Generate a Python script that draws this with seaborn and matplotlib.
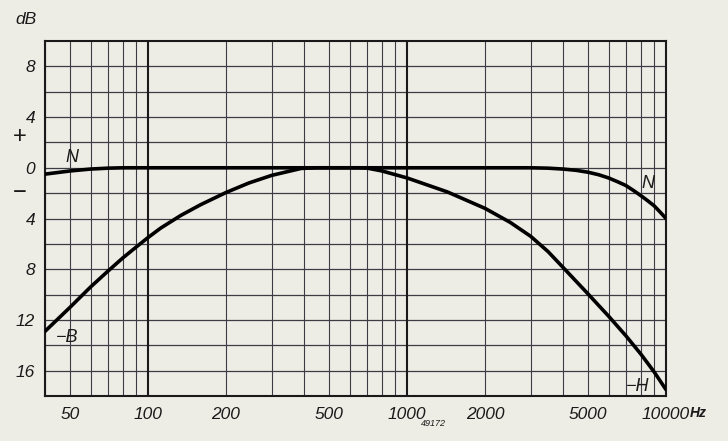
import matplotlib
matplotlib.use('Agg')
import matplotlib.pyplot as plt
from matplotlib.ticker import FixedLocator, FuncFormatter, NullFormatter
import seaborn as sns
import pandas as pd

# curve N (flat response)
freq_n = [40, 50, 60, 70, 80, 100, 200, 500, 1000, 2000, 3000, 3500, 4000, 4500, 5000, 5500,
          6000, 6500, 7000, 7500, 8000, 8500, 9000, 9500, 10000]
db_n = [-0.5, -0.25, -0.1, -0.03, 0, 0, 0, 0, 0, 0, 0, -0.03, -0.1, -0.2, -0.35, -0.55,
        -0.8, -1.1, -1.4, -1.8, -2.2, -2.6, -3.0, -3.5, -4.0]

# curve B-H (bass and treble cut)
freq_bh = [40, 50, 60, 70, 80, 90, 100, 112, 134, 160, 200, 245, 300, 330, 390, 450, 550, 650,
           700, 800, 1000, 1430, 2000, 2500, 3000, 3500, 4000, 5000, 6000, 7000, 8000, 9000, 10000]
db_bh = [-12.9, -11.0, -9.4, -8.15, -7.1, -6.25, -5.5, -4.75, -3.75, -2.9, -1.95, -1.2, -0.6, -0.4, -0.05, 0, 0, 0,
         -0.02, -0.25, -0.8, -1.9, -3.2, -4.3, -5.4, -6.6, -7.85, -9.95, -11.7, -13.25, -14.7, -16.1, -17.5]

x_ticks = [50, 100, 200, 500, 1000, 2000, 5000, 10000]
x_labels = ['50', '100', '200', '500', '1000', '2000', '5000', '10000']
y_ticks = [8, 4, 0, -4, -8, -12, -16]

paper = '#edece5'
ink = '#1a1a1a'
grid_col = '#3c3c44'

sns.set_style('white')
plt.rcParams['font.family'] = ['Liberation Sans', 'DejaVu Sans']
plt.rcParams['font.style'] = 'italic'

fig = plt.figure(figsize=(7.28, 4.41), dpi=100)
fig.patch.set_facecolor(paper)
ax = fig.add_axes([45 / 728, 1 - 396 / 441, 621 / 728, 355 / 441])
ax.set_facecolor(paper)

ax.set_xscale('log')
ax.set_xlim(40, 10000)
ax.set_ylim(-18, 10)

# grid: every 2 dB horizontally, 1-2-3..9 per decade vertically
for y in range(-16, 10, 2):
    ax.axhline(y, color=grid_col, lw=0.9, zorder=1)
minor_f = [f * m for f in (10, 100, 1000) for m in range(1, 10) if 40 <= f * m <= 10000]
for f in minor_f:
    heavy = f in (100, 1000)
    ax.axvline(f, color=ink if heavy else grid_col, lw=1.5 if heavy else 0.8, zorder=1)

df_n = pd.DataFrame({'f': freq_n, 'db': db_n})
df_bh = pd.DataFrame({'f': freq_bh, 'db': db_bh})
sns.lineplot(data=df_n, x='f', y='db', color='black', lw=2.6, estimator=None, ax=ax, zorder=5)
sns.lineplot(data=df_bh, x='f', y='db', color='black', lw=2.6, estimator=None, ax=ax, zorder=5)

for s in ax.spines.values():
    s.set_color(ink)
    s.set_linewidth(1.5)

ax.xaxis.set_major_locator(FixedLocator(x_ticks))
ax.xaxis.set_minor_formatter(NullFormatter())
ax.set_xticklabels(x_labels)
ax.yaxis.set_major_locator(FixedLocator(y_ticks))
ax.yaxis.set_major_formatter(FuncFormatter(lambda v, p: '%d' % abs(v)))
ax.tick_params(axis='both', which='both', length=0, labelsize=12.5, colors=ink)
ax.tick_params(axis='x', pad=8)
ax.tick_params(axis='y', pad=7)
ax.set_xlabel('')
ax.set_ylabel('')

txt = dict(color=ink, style='italic')
fig.text(15 / 728, 1 - 19 / 441, 'dB', fontsize=12.5, va='center', **txt)
fig.text(20 / 728, 1 - 137 / 441, '+', fontsize=17, ha='center', va='center', color=ink, style='normal')
fig.text(20 / 728, 1 - 193 / 441, '\u2212', fontsize=17, ha='center', va='center', color=ink, style='normal')
fig.text(690 / 728, 1 - 413 / 441, 'Hz', fontsize=10, va='center', weight='bold', **txt)
fig.text(433 / 728, 1 - 423 / 441, '49172', fontsize=6.5, ha='center', va='center', **txt)

ax.text(0.043, 0.673, 'N', transform=ax.transAxes, fontsize=13, ha='center', va='center', **txt)
ax.text(0.971, 0.6, 'N', transform=ax.transAxes, fontsize=13, ha='center', va='center', **txt)
ax.text(0.035, 0.164, '\u2212B', transform=ax.transAxes, fontsize=13, ha='center', va='center', **txt)
ax.text(0.955, 0.027, '\u2212H', transform=ax.transAxes, fontsize=13, ha='center', va='center', **txt)

fig.savefig('out.png', dpi=100, facecolor=fig.get_facecolor())
